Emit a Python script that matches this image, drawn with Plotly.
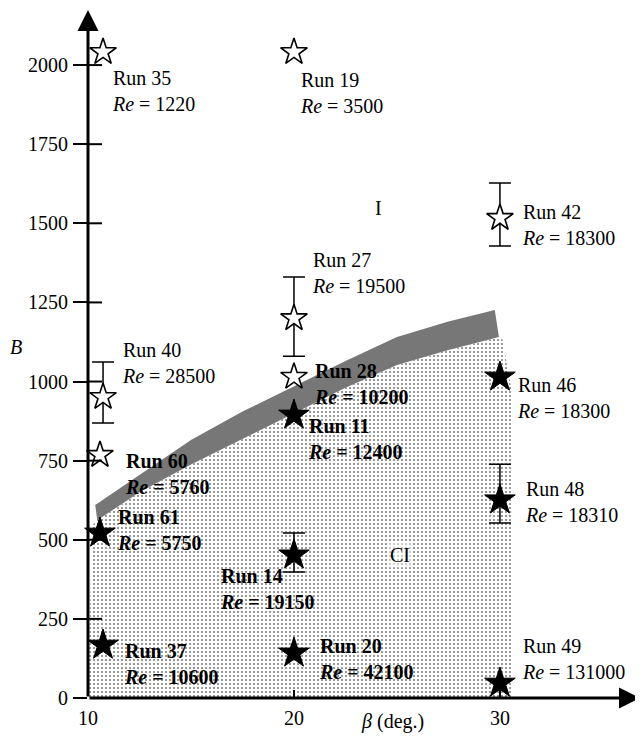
import plotly.graph_objects as go

# ---------------- data ----------------
runs = [35, 19, 42, 27, 40, 60, 28, 46, 11, 48, 61, 14, 37, 20, 49]
beta = [10.73, 20, 30, 20, 10.73, 10.58, 20, 30, 20, 30, 10.58, 20, 10.73, 20, 30]
B_val = [2041, 2041, 1517, 1200, 951, 768, 1015, 1014, 894, 626, 521, 452, 167, 142, 47]
Re_val = [1220, 3500, 18300, 19500, 28500, 5760, 10200, 18300, 12400, 18310, 5750, 19150, 10600, 42100, 131000]
filled = [False, False, False, False, False, False, False, True, True, True, True, True, True, True, True]
err_plus = [0, 0, 110, 130, 111, 0, 0, 0, 0, 113, 0, 69, 0, 0, 0]
err_minus = [0, 0, 89, 120, 82, 0, 0, 0, 0, 73, 0, 54, 0, 0, 0]

# label anchors (left edge, vertical middle)
label_x = [11.07, 20.19, 30.97, 20.78, 11.55, 11.70, 20.87, 30.73, 20.58, 31.12, 11.31, 16.31, 11.65, 21.12, 30.97]
label_B = [1919, 1913, 1496, 1343, 1060, 709, 992, 949, 817, 618, 532, 343, 109, 122, 122]
label_bold = [False, False, False, False, False, True, True, False, True, False, True, True, True, True, False]

# transition band (dark) boundaries
band_upper_x = [10.35, 12.5, 15, 17.5, 20, 22.5, 25, 27.5, 29.75]
band_upper_B = [610, 705, 815, 905, 985, 1065, 1141, 1190, 1226]
band_lower_x = [29.95, 27.5, 25, 22.5, 20, 17.5, 15, 12.5, 10.45]
band_lower_B = [1141, 1100, 1052, 980, 900, 820, 738, 650, 562]

# CI region (dotted)
ci_x = [10.0, 30.6, 30.6, 30.55, 30.1] + band_lower_x + [10.2]
ci_B = [0, 0, 800, 980, 1141] + band_lower_B + [545]

x_ticks = [10, 20, 30]
y_ticks = [0, 250, 500, 750, 1000, 1250, 1500, 1750, 2000]

X_MAX = 36.8
Y_MAX = 2174
FONT = "Liberation Serif, Times New Roman, serif"

fig = go.Figure()

# dotted CI region
fig.add_trace(go.Scatter(
    x=ci_x, y=ci_B, mode="lines", fill="toself",
    line=dict(width=0, color="rgba(0,0,0,0)"),
    fillcolor="white",
    fillpattern=dict(shape=".", size=4, solidity=0.22, fgcolor="black", bgcolor="white"),
    hoverinfo="skip", showlegend=False))

# dark band
fig.add_trace(go.Scatter(
    x=band_upper_x + band_lower_x, y=band_upper_B + band_lower_B,
    mode="lines", fill="toself", line=dict(width=0, color="rgba(0,0,0,0)"),
    fillcolor="#777777", hoverinfo="skip", showlegend=False))

# points
for i in range(len(runs)):
    err = None
    if err_plus[i] or err_minus[i]:
        err = dict(type="data", symmetric=False, array=[err_plus[i]], arrayminus=[err_minus[i]],
                   color="black", thickness=1.5, width=11)
    if filled[i]:
        marker = dict(symbol="star", size=23, color="black", line=dict(color="black", width=1))
    else:
        marker = dict(symbol="star", size=20, color="white", line=dict(color="black", width=1.6))
    fig.add_trace(go.Scatter(x=[beta[i]], y=[B_val[i]], mode="markers", marker=marker,
                             error_y=err, showlegend=False, cliponaxis=False))

annotations = []
for i in range(len(runs)):
    if label_bold[i]:
        txt = f"<b>Run {runs[i]}</b><br><b><i>Re</i> = {Re_val[i]}</b>"
    else:
        txt = f"Run {runs[i]}<br><i>Re</i> = {Re_val[i]}"
    annotations.append(dict(x=label_x[i], y=label_B[i], xref="x", yref="y", text=txt,
                            showarrow=False, xanchor="left", yanchor="middle", align="left",
                            font=dict(family=FONT, size=20, color="black")))

# region labels
annotations.append(dict(x=24.08, y=1548, xref="x", yref="y", text="I", showarrow=False,
                        font=dict(family=FONT, size=20, color="black")))
annotations.append(dict(x=25.15, y=452, xref="x", yref="y", text="CI", showarrow=False,
                        bgcolor="rgba(255,255,255,0.5)",
                        font=dict(family=FONT, size=20, color="black")))

# axis lines with arrows
annotations.append(dict(x=10, y=Y_MAX, ax=10, ay=0, xref="x", yref="y", axref="x", ayref="y",
                        text="", showarrow=True, arrowhead=2, arrowsize=1.4, arrowwidth=3,
                        arrowcolor="black"))
annotations.append(dict(x=X_MAX, y=0, ax=10, ay=0, xref="x", yref="y", axref="x", ayref="y",
                        text="", showarrow=True, arrowhead=2, arrowsize=1.4, arrowwidth=3,
                        arrowcolor="black"))

# axis titles
annotations.append(dict(x=-0.145, y=0.510, xref="paper", yref="paper", text="<i>B</i>",
                        showarrow=False, font=dict(family=FONT, size=20, color="black")))
annotations.append(dict(x=0.5525, y=-0.0538, xref="paper", yref="paper",
                        text="<i>β</i> (deg.)", showarrow=False,
                        font=dict(family=FONT, size=20, color="black")))

# tick marks crossing the axes
shapes = []
for t in y_ticks[1:]:
    shapes.append(dict(type="line", xref="x", yref="y", xsizemode="pixel", xanchor=10,
                       x0=0, x1=14, y0=t, y1=t, line=dict(color="black", width=2)))
for t in x_ticks[1:]:
    shapes.append(dict(type="line", xref="x", yref="y", ysizemode="pixel", yanchor=0,
                       y0=-9, y1=8, x0=t, x1=t, line=dict(color="black", width=2)))

# the page body adds an 8px margin, compensated here
fig.update_layout(
    width=643, height=748, autosize=False,
    margin=dict(l=80, r=11, t=2, b=58),
    paper_bgcolor="white", plot_bgcolor="white",
    annotations=annotations, shapes=shapes,
    font=dict(family=FONT, size=20, color="black"),
    xaxis=dict(range=[10, X_MAX], tickvals=x_ticks, ticktext=[str(v) for v in x_ticks],
               ticks="outside", ticklen=2, tickwidth=1, tickcolor="rgba(0,0,0,0)",
               showgrid=False, zeroline=False, showline=False,
               tickfont=dict(family=FONT, size=20, color="black")),
    yaxis=dict(range=[0, Y_MAX], tickvals=y_ticks, ticktext=[str(v) for v in y_ticks],
               ticks="outside", ticklen=14, tickwidth=2, tickcolor="black",
               ticklabelstandoff=1,
               showgrid=False, zeroline=False, showline=False,
               tickfont=dict(family=FONT, size=20, color="black")),
)

fig.write_html("out.html")
